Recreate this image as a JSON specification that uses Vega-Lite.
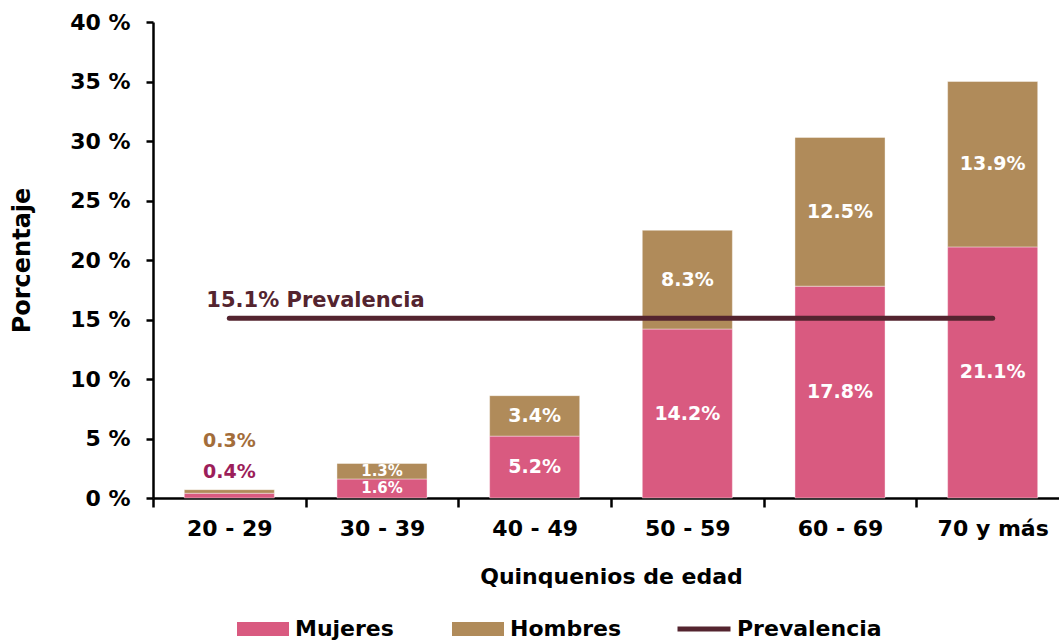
{
  "$schema": "https://vega.github.io/schema/vega-lite/v6.json",
  "autosize": {"type": "none"},
  "width": 916,
  "height": 476,
  "padding": {"left": 153, "top": 22, "right": 0, "bottom": 145},
  "background": "white",
  "config": {
    "view": {"stroke": null},
    "font": "DejaVu Sans",
    "axis": {
      "domainColor": "#000000",
      "domainWidth": 2.5,
      "tickColor": "#000000",
      "tickWidth": 2.5,
      "labelColor": "#000000",
      "labelFont": "DejaVu Sans",
      "labelFontWeight": "bold",
      "labelFontSize": 22,
      "titleColor": "#000000",
      "titleFont": "DejaVu Sans",
      "titleFontWeight": "bold",
      "grid": false
    },
    "legend": {
      "labelFont": "DejaVu Sans",
      "labelFontWeight": "bold",
      "labelFontSize": 22,
      "labelColor": "#000000",
      "padding": 0
    }
  },
  "datasets": {
    "barras": [
      {"grupo": "20 - 29", "sexo": "Mujeres", "valor": 0.4},
      {"grupo": "20 - 29", "sexo": "Hombres", "valor": 0.3},
      {"grupo": "30 - 39", "sexo": "Mujeres", "valor": 1.6},
      {"grupo": "30 - 39", "sexo": "Hombres", "valor": 1.3},
      {"grupo": "40 - 49", "sexo": "Mujeres", "valor": 5.2},
      {"grupo": "40 - 49", "sexo": "Hombres", "valor": 3.4},
      {"grupo": "50 - 59", "sexo": "Mujeres", "valor": 14.2},
      {"grupo": "50 - 59", "sexo": "Hombres", "valor": 8.3},
      {"grupo": "60 - 69", "sexo": "Mujeres", "valor": 17.8},
      {"grupo": "60 - 69", "sexo": "Hombres", "valor": 12.5},
      {"grupo": "70 y más", "sexo": "Mujeres", "valor": 21.1},
      {"grupo": "70 y más", "sexo": "Hombres", "valor": 13.9}
    ],
    "prev": [
      {"inicio": "20 - 29", "fin": "70 y más", "valor": 15.1, "serie": "Prevalencia", "etiqueta": "15.1%  Prevalencia"}
    ]
  },
  "layer": [
    {
      "data": {"name": "barras"},
      "transform": [
        {"stack": "valor", "groupby": ["grupo"], "sort": [{"field": "sexo", "order": "descending"}], "as": ["v0", "v1"]}
      ],
      "mark": {"type": "bar", "stroke": "#ffffff", "strokeWidth": 0.8, "strokeOpacity": 0.5},
      "encoding": {
        "x": {
          "field": "grupo", "type": "nominal", "sort": null,
          "scale": {"paddingInner": 0.41, "paddingOuter": 0.205},
          "axis": {
            "title": "Quinquenios de edad",
            "titleFontSize": 22,
            "titlePadding": 27,
            "labelAngle": 0,
            "tickOffset": -76.33,
            "labelOffset": 76.33,
            "tickSize": 9,
            "labelPadding": 11
          }
        },
        "y": {
          "field": "v0", "type": "quantitative",
          "scale": {"domain": [0, 40], "nice": false},
          "axis": {
            "title": "Porcentaje",
            "titleFontSize": 24,
            "titlePadding": 35,
            "values": [0, 5, 10, 15, 20, 25, 30, 35, 40],
            "labelExpr": "datum.value + ' %'",
            "tickSize": 7,
            "labelPadding": 16
          }
        },
        "y2": {"field": "v1"},
        "color": {
          "field": "sexo", "type": "nominal",
          "scale": {"domain": ["Mujeres", "Hombres"], "range": ["#d95a80", "#b08b5a"]},
          "legend": {
            "title": null,
            "orient": "none",
            "direction": "horizontal",
            "legendX": 84,
            "legendY": 581,
            "symbolType": "M-1,-0.27H1V0.27H-1Z",
            "symbolSize": 2704,
            "symbolStrokeWidth": 0,
            "symbolOpacity": 1,
            "labelOffset": 6,
            "columnPadding": 58
          }
        }
      }
    },
    {
      "data": {"name": "barras"},
      "transform": [
        {"stack": "valor", "groupby": ["grupo"], "sort": [{"field": "sexo", "order": "descending"}], "as": ["v0", "v1"]},
        {"filter": "datum.grupo !== '20 - 29'"},
        {"calculate": "(datum.v0 + datum.v1) / 2", "as": "medio"},
        {"calculate": "format(datum.valor, '.1f') + '%'", "as": "texto"}
      ],
      "mark": {"type": "text", "color": "#ffffff", "fontWeight": "bold", "baseline": "middle", "align": "center"},
      "encoding": {
        "x": {"field": "grupo", "type": "nominal", "sort": null},
        "y": {"field": "medio", "type": "quantitative"},
        "text": {"field": "texto"},
        "size": {"condition": {"test": "datum.grupo === '30 - 39'", "value": 15}, "value": 19}
      }
    },
    {
      "data": {"name": "barras"},
      "transform": [
        {"stack": "valor", "groupby": ["grupo"], "sort": [{"field": "sexo", "order": "descending"}], "as": ["v0", "v1"]},
        {"filter": "datum.grupo === '20 - 29' && datum.sexo === 'Mujeres'"},
        {"calculate": "(datum.v0 + datum.v1) / 2", "as": "medio"},
        {"calculate": "format(datum.valor, '.1f') + '%'", "as": "texto"}
      ],
      "mark": {"type": "text", "color": "#9c1e5a", "fontWeight": "bold", "fontSize": 19, "baseline": "middle", "align": "center", "dy": -24},
      "encoding": {
        "x": {"field": "grupo", "type": "nominal", "sort": null},
        "y": {"field": "medio", "type": "quantitative"},
        "text": {"field": "texto"}
      }
    },
    {
      "data": {"name": "barras"},
      "transform": [
        {"stack": "valor", "groupby": ["grupo"], "sort": [{"field": "sexo", "order": "descending"}], "as": ["v0", "v1"]},
        {"filter": "datum.grupo === '20 - 29' && datum.sexo === 'Hombres'"},
        {"calculate": "(datum.v0 + datum.v1) / 2", "as": "medio"},
        {"calculate": "format(datum.valor, '.1f') + '%'", "as": "texto"}
      ],
      "mark": {"type": "text", "color": "#a36d3a", "fontWeight": "bold", "fontSize": 19, "baseline": "middle", "align": "center", "dy": -50},
      "encoding": {
        "x": {"field": "grupo", "type": "nominal", "sort": null},
        "y": {"field": "medio", "type": "quantitative"},
        "text": {"field": "texto"}
      }
    },
    {
      "data": {"name": "prev"},
      "mark": {"type": "rule", "strokeWidth": 5, "strokeCap": "round"},
      "encoding": {
        "x": {"field": "inicio", "type": "nominal", "sort": null},
        "x2": {"field": "fin"},
        "y": {"field": "valor", "type": "quantitative"},
        "stroke": {
          "field": "serie", "type": "nominal",
          "scale": {"domain": ["Prevalencia"], "range": ["#54242f"]},
          "legend": {
            "title": null,
            "orient": "none",
            "direction": "horizontal",
            "legendX": 522,
            "legendY": 578,
            "symbolType": "stroke",
            "symbolSize": 2809,
            "symbolStrokeWidth": 5,
            "labelOffset": 4
          }
        }
      }
    },
    {
      "data": {"name": "prev"},
      "mark": {"type": "text", "color": "#54242f", "fontWeight": "bold", "fontSize": 21, "align": "left", "baseline": "middle", "dx": -23, "dy": -17},
      "encoding": {
        "x": {"field": "inicio", "type": "nominal", "sort": null},
        "y": {"field": "valor", "type": "quantitative"},
        "text": {"field": "etiqueta"}
      }
    }
  ]
}
